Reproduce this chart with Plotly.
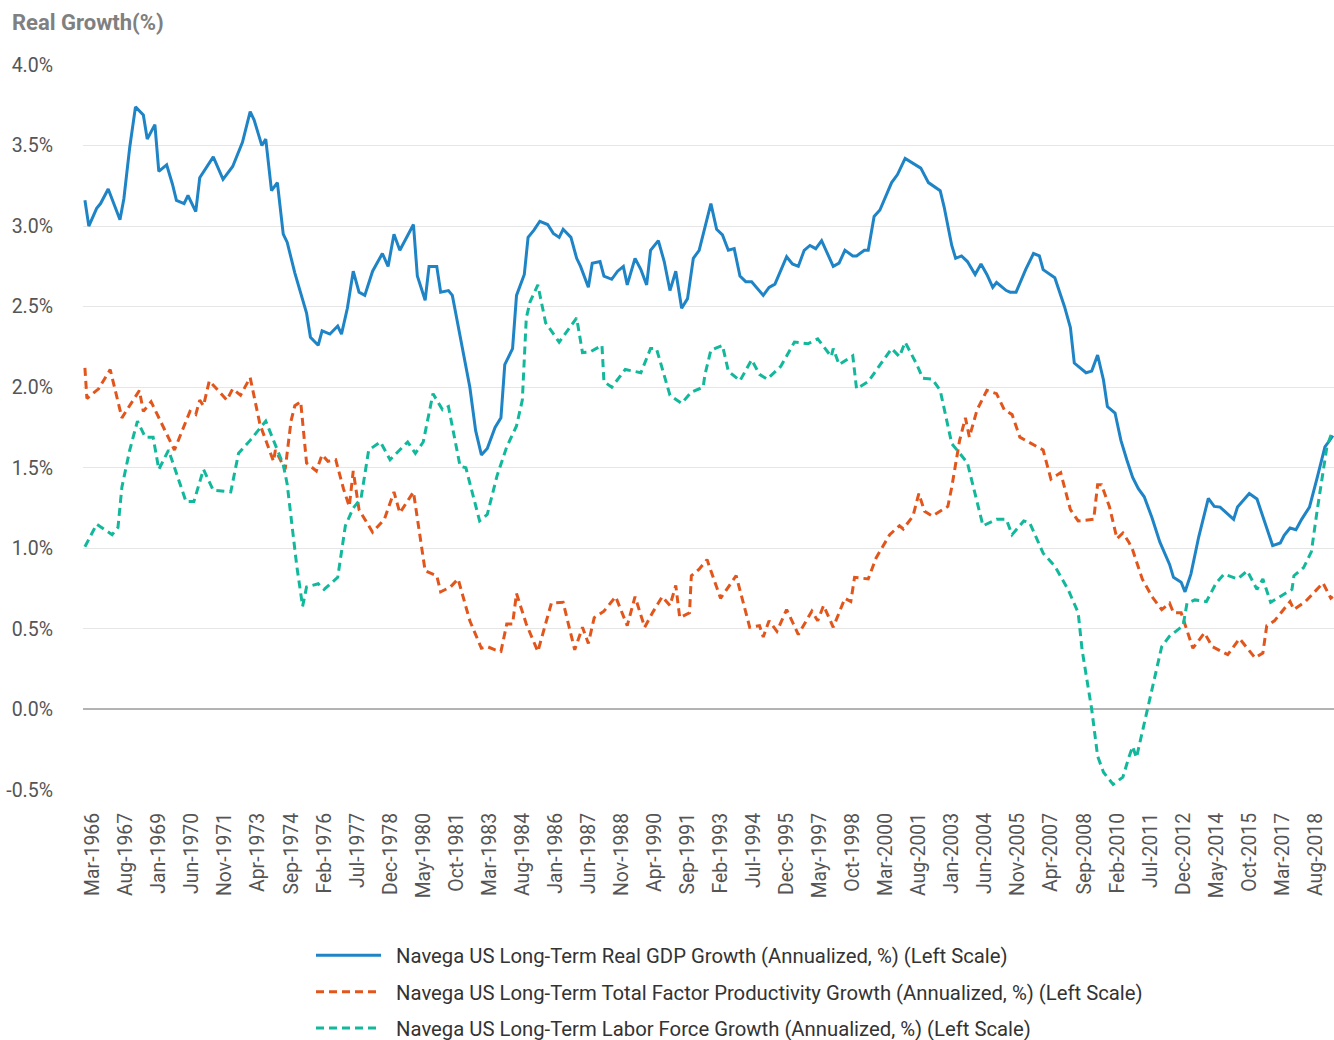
import pandas as pd
import plotly.graph_objects as go

# ---------------- data ----------------
gdp_dates = ["1966-03","1966-05","1966-09","1966-11","1967-03","1967-09","1967-11","1968-02","1968-05","1968-09",
             "1968-11","1969-03","1969-05","1969-09","1969-12","1970-02","1970-06","1970-08","1970-12","1971-02",
             "1971-09","1972-02","1972-07","1972-12","1973-04","1973-06","1973-10","1973-12","1974-03","1974-06",
             "1974-09","1974-11","1975-03","1975-09","1975-11","1976-03","1976-05","1976-09","1977-01","1977-03",
             "1977-06","1977-09","1977-12","1978-03","1978-07","1978-12","1979-03","1979-06","1979-09","1980-04",
             "1980-06","1980-10","1980-12","1981-04","1981-06","1981-10","1981-12","1982-04","1982-09","1982-12",
             "1983-03","1983-06","1983-10","1984-01","1984-03","1984-07","1984-09","1985-01","1985-03","1985-06",
             "1985-09","1986-01","1986-04","1986-07","1986-09","1987-01","1987-04","1987-06","1987-10","1987-12",
             "1988-04","1988-06","1988-10","1989-01","1989-04","1989-06","1989-10","1990-01","1990-04","1990-06",
             "1990-10","1991-01","1991-04","1991-07","1991-10","1992-01","1992-04","1992-07","1992-10","1993-01",
             "1993-04","1993-07","1993-10","1994-01","1994-04","1994-07","1994-10","1995-04","1995-07","1995-10",
             "1996-04","1996-07","1996-10","1997-01","1997-04","1997-07","1997-10","1998-04","1998-07","1998-10",
             "1999-02","1999-04","1999-08","1999-10","2000-01","2000-04","2000-10","2001-01","2001-05","2002-01",
             "2002-05","2002-11","2003-01","2003-05","2003-07","2003-10","2004-01","2004-05","2004-08","2004-11",
             "2005-02","2005-04","2005-09","2005-11","2006-02","2006-07","2006-11","2007-02","2007-04","2007-10",
             "2008-03","2008-06","2008-08","2008-11","2009-02","2009-05","2009-08","2009-11","2010-01","2010-05",
             "2010-08","2010-11","2011-02","2011-05","2011-08","2011-12","2012-04","2012-09","2012-11","2013-03",
             "2013-05","2013-08","2013-12","2014-05","2014-08","2014-11","2015-03","2015-06","2015-08","2016-02",
             "2016-06","2016-09","2017-02","2017-06","2017-08","2017-11","2018-02","2018-05","2018-09","2019-01",
             "2019-05","2019-08","2019-09"]
gdp_values = [3.16,3.00,3.11,3.14,3.23,3.04,3.17,3.49,3.74,3.69,
              3.54,3.63,3.34,3.38,3.26,3.16,3.14,3.19,3.09,3.30,
              3.43,3.29,3.37,3.52,3.71,3.66,3.50,3.54,3.22,3.27,
              2.95,2.90,2.71,2.46,2.31,2.26,2.35,2.33,2.38,2.33,
              2.49,2.72,2.59,2.57,2.72,2.83,2.75,2.95,2.85,3.01,
              2.69,2.54,2.75,2.75,2.59,2.60,2.57,2.31,2.00,1.73,
              1.58,1.62,1.75,1.81,2.14,2.24,2.57,2.70,2.93,2.975,
              3.03,3.01,2.955,2.93,2.98,2.93,2.80,2.75,2.62,2.77,
              2.78,2.69,2.67,2.72,2.75,2.635,2.80,2.73,2.635,2.85,
              2.91,2.78,2.60,2.72,2.49,2.55,2.80,2.85,2.99,3.14,
              2.98,2.945,2.85,2.86,2.69,2.655,2.655,2.57,2.62,2.64,
              2.81,2.765,2.75,2.85,2.88,2.86,2.91,2.75,2.77,2.85,
              2.815,2.815,2.85,2.85,3.06,3.10,3.27,3.32,3.42,3.36,
              3.27,3.22,3.12,2.88,2.80,2.815,2.78,2.70,2.765,2.70,
              2.62,2.65,2.60,2.59,2.59,2.73,2.83,2.815,2.73,2.68,
              2.50,2.37,2.15,2.12,2.09,2.10,2.20,2.045,1.88,1.84,
              1.67,1.55,1.44,1.37,1.32,1.19,1.04,0.90,0.82,0.79,
              0.73,0.84,1.07,1.31,1.26,1.256,1.21,1.18,1.256,1.34,
              1.306,1.20,1.017,1.033,1.08,1.126,1.116,1.18,1.256,1.44,
              1.63,1.68,1.70]

tfp_dates = ["1966-03","1966-04","1966-10","1967-04","1967-10","1968-07","1968-09","1969-01","1970-01","1970-09",
             "1970-12","1971-02","1971-04","1971-07","1972-04","1972-07","1972-11","1973-04","1973-09","1974-04",
             "1974-05","1974-10","1975-01","1975-03","1975-06","1975-09","1976-02","1976-05","1976-08","1976-12",
             "1977-04","1977-07","1977-09","1977-12","1978-07","1979-01","1979-06","1979-09","1980-04","1980-07",
             "1980-10","1981-04","1981-06","1981-11","1982-03","1982-09","1983-03","1983-06","1983-10","1984-01",
             "1984-04","1984-07","1984-09","1985-02","1985-08","1986-03","1986-09","1987-03","1987-07","1987-10",
             "1988-01","1988-06","1988-12","1989-06","1989-10","1990-03","1990-07","1990-12","1991-04","1991-07",
             "1991-09","1992-02","1992-03","1992-07","1992-11","1993-06","1994-02","1994-09","1995-02","1995-04",
             "1995-07","1995-11","1996-04","1996-10","1997-05","1997-08","1997-11","1998-04","1998-10","1999-01",
             "1999-03","1999-10","2000-02","2000-09","2001-02","2001-04","2001-09","2001-12","2002-03","2002-07",
             "2003-03","2003-05","2003-09","2003-12","2004-02","2004-06","2004-11","2005-04","2005-08","2005-12",
             "2006-04","2007-04","2007-08","2008-01","2008-06","2008-10","2009-06","2009-08","2009-10","2010-02",
             "2010-06","2010-09","2010-12","2011-02","2011-07","2011-12","2012-05","2012-09","2012-11","2013-03",
             "2013-09","2014-03","2014-07","2015-03","2015-09","2016-05","2016-09","2016-11","2017-03","2017-11",
             "2018-01","2018-07","2019-04","2019-08","2019-09"]
tfp_values = [2.12,1.93,1.99,2.11,1.81,1.98,1.85,1.91,1.61,1.85,
              1.83,1.92,1.885,2.04,1.92,1.99,1.95,2.06,1.77,1.54,
              1.61,1.49,1.79,1.885,1.91,1.53,1.48,1.58,1.54,1.55,
              1.37,1.26,1.48,1.24,1.10,1.18,1.35,1.22,1.35,1.095,
              0.86,0.83,0.73,0.76,0.81,0.55,0.38,0.39,0.37,0.36,
              0.53,0.53,0.72,0.53,0.36,0.66,0.665,0.37,0.51,0.41,
              0.57,0.61,0.70,0.52,0.70,0.51,0.60,0.70,0.645,0.77,
              0.57,0.60,0.83,0.87,0.93,0.69,0.83,0.51,0.52,0.45,
              0.55,0.485,0.62,0.465,0.61,0.55,0.645,0.51,0.69,0.67,
              0.82,0.81,0.94,1.085,1.14,1.12,1.20,1.34,1.23,1.20,
              1.26,1.38,1.67,1.81,1.69,1.86,1.98,1.96,1.86,1.83,
              1.69,1.61,1.43,1.47,1.24,1.17,1.18,1.395,1.395,1.26,
              1.06,1.095,1.04,0.99,0.81,0.70,0.62,0.66,0.60,0.60,
              0.38,0.475,0.39,0.34,0.44,0.32,0.35,0.52,0.55,0.67,
              0.62,0.67,0.785,0.69,0.70]

lab_dates = ["1966-03","1966-09","1967-05","1967-08","1967-10","1968-02","1968-06","1968-10","1969-02","1969-05",
             "1969-10","1970-07","1970-11","1971-04","1971-09","1972-06","1972-10","1973-04","1973-12","1974-04",
             "1974-09","1974-11","1975-04","1975-07","1975-09","1976-03","1976-06","1977-01","1977-05","1977-09",
             "1978-01","1978-05","1978-11","1979-04","1980-01","1980-05","1980-09","1981-02","1981-07","1981-10",
             "1982-04","1982-07","1983-02","1983-06","1983-11","1984-04","1984-09","1984-12","1985-02","1985-04",
             "1985-08","1985-12","1986-07","1987-04","1987-07","1987-11","1988-05","1988-06","1988-10","1989-05",
             "1990-01","1990-06","1990-09","1991-04","1991-10","1992-03","1992-09","1992-10","1993-01","1993-07",
             "1993-10","1994-04","1994-10","1995-02","1995-06","1996-01","1996-08","1997-03","1997-08","1998-03",
             "1998-04","1998-07","1999-02","1999-04","1999-10","2000-10","2001-02","2001-05","2001-11","2002-02",
             "2002-07","2002-11","2003-05","2003-09","2004-01","2004-09","2005-04","2005-09","2005-12","2006-06",
             "2006-09","2007-04","2007-10","2008-05","2008-10","2008-12","2009-05","2009-08","2009-11","2010-04",
             "2010-09","2010-12","2011-02","2011-04","2011-10","2012-05","2012-09","2013-04","2013-06","2013-10",
             "2014-04","2014-09","2015-01","2015-08","2016-01","2016-06","2016-09","2017-01","2017-12","2018-01",
             "2018-06","2018-10","2019-01","2019-04","2019-06","2019-08","2019-09"]
lab_values = [1.01,1.15,1.085,1.13,1.38,1.61,1.79,1.69,1.69,1.49,
              1.61,1.29,1.29,1.49,1.36,1.35,1.59,1.67,1.79,1.67,
              1.52,1.40,0.89,0.64,0.76,0.78,0.745,0.82,1.14,1.25,
              1.31,1.61,1.66,1.55,1.66,1.59,1.66,1.96,1.86,1.88,
              1.51,1.50,1.17,1.21,1.45,1.63,1.76,1.92,2.43,2.53,
              2.635,2.40,2.28,2.43,2.215,2.22,2.26,2.035,2.00,2.11,
              2.09,2.24,2.24,1.95,1.90,1.97,2.00,2.08,2.23,2.26,
              2.10,2.04,2.17,2.08,2.05,2.13,2.28,2.27,2.30,2.19,
              2.24,2.14,2.195,1.99,2.035,2.24,2.19,2.28,2.14,2.056,
              2.05,1.98,1.65,1.59,1.53,1.14,1.18,1.18,1.085,1.17,
              1.16,0.97,0.89,0.74,0.60,0.37,0.00,-0.29,-0.39,-0.465,
              -0.42,-0.30,-0.23,-0.30,0.02,0.39,0.455,0.52,0.66,0.68,
              0.67,0.785,0.84,0.81,0.86,0.745,0.81,0.665,0.745,0.83,
              0.88,0.98,1.24,1.49,1.63,1.70,1.71]

tick_labels = ["Mar-1966","Aug-1967","Jan-1969","Jun-1970","Nov-1971","Apr-1973","Sep-1974","Feb-1976",
               "Jul-1977","Dec-1978","May-1980","Oct-1981","Mar-1983","Aug-1984","Jan-1986","Jun-1987",
               "Nov-1988","Apr-1990","Sep-1991","Feb-1993","Jul-1994","Dec-1995","May-1997","Oct-1998",
               "Mar-2000","Aug-2001","Jan-2003","Jun-2004","Nov-2005","Apr-2007","Sep-2008","Feb-2010",
               "Jul-2011","Dec-2012","May-2014","Oct-2015","Mar-2017","Aug-2018"]
y_ticks = [-0.5, 0.0, 0.5, 1.0, 1.5, 2.0, 2.5, 3.0, 3.5, 4.0]

series_names = ["Navega US Long-Term Real GDP Growth (Annualized, %) (Left Scale)",
                "Navega US Long-Term Total Factor Productivity Growth (Annualized, %) (Left Scale)",
                "Navega US Long-Term Labor Force Growth (Annualized, %) (Left Scale)"]

# ---------------- figure ----------------
FONT = "Roboto, 'Open Sans', sans-serif"
W, H = 1334, 1040
ML, MT, MB = 83, 65, 250
PLOT_W = W - ML
PLOT_H = H - MT - MB
NBSP = "\u00a0\u00a0"

fig = go.Figure()
fig.add_trace(go.Scatter(x=pd.to_datetime(gdp_dates), y=gdp_values, mode="lines", name=NBSP + series_names[0],
                         legendgroup="a", line=dict(color="#1f84c6", width=3)))
fig.add_trace(go.Scatter(x=pd.to_datetime(tfp_dates), y=tfp_values, mode="lines", name=NBSP + series_names[1],
                         legendgroup="b", line=dict(color="#e2561c", width=3, dash="8px,5px")))
fig.add_trace(go.Scatter(x=pd.to_datetime(lab_dates), y=lab_values, mode="lines", name=NBSP + series_names[2],
                         legendgroup="c", line=dict(color="#12b89b", width=3, dash="8px,5px")))

tick_dates = pd.to_datetime(tick_labels, format="%b-%Y")

fig.update_layout(
    width=W, height=H,
    margin=dict(l=ML, r=0, t=MT, b=MB, autoexpand=False),
    paper_bgcolor="white", plot_bgcolor="white",
    font=dict(family=FONT, size=19, color="#555555"),
    title=dict(text="Real Growth(%)", xref="container", yref="container",
               x=12 / W, xanchor="left", y=1 - 22 / H, yanchor="middle",
               font=dict(family=FONT, size=22, color="#808080", weight="bold")),
    showlegend=True,
    legend=dict(orientation="v", x=(311 - ML) / PLOT_W, xanchor="left", y=-0.2008, yanchor="top",
                font=dict(family=FONT, size=20.3, color="#333333"), itemwidth=65,
                tracegroupgap=7, bgcolor="rgba(0,0,0,0)"),
    xaxis=dict(type="date", range=["1966-01-30", "2019-09-20"],
               tickmode="array", tickvals=tick_dates, ticktext=tick_labels,
               tickangle=-90, showgrid=False, zeroline=False, showline=False,
               ticks="", ticklabelstandoff=18, ticklabelshift=8,
               tickfont=dict(family=FONT, size=19.4, color="#555555")),
    yaxis=dict(range=[-0.5, 4.0], tickmode="array", tickvals=y_ticks,
               ticktext=[f"{v:.1f}%" for v in y_ticks],
               showgrid=True, gridcolor="#e6e6e6", gridwidth=1.3,
               zeroline=True, zerolinecolor="#b3b3b3", zerolinewidth=1.5,
               showline=False, ticks="", ticklabelstandoff=29,
               tickfont=dict(family=FONT, size=19.5, color="#555555")),
)

# remove the default 8px page margin so the 1334x1040 figure fills the window exactly
fig.write_html("out.html", config={"displayModeBar": False},
               post_script="document.body.style.margin='0';document.body.style.overflow='hidden';")
